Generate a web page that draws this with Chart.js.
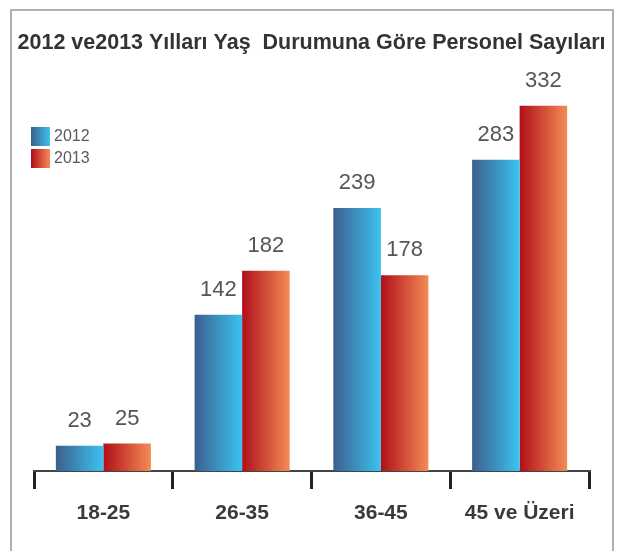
<!DOCTYPE html>
<html>
<head>
<meta charset="utf-8">
<script src="https://cdn.jsdelivr.net/npm/chart.js@4"></script>
<style>
  html, body { margin: 0; padding: 0; background: #fff; overflow: hidden; }
  #wrap { position: relative; width: 623px; height: 551px; }
  #frame { position: absolute; left: 10px; top: 9px; width: 604px; height: 580px; border: 2px solid #b0b0b0; box-sizing: border-box; }
  canvas { position: absolute; left: 0; top: 0; }
</style>
</head>
<body>
<div id="wrap">
  <canvas id="ageChart" width="623" height="551"></canvas>
  <div id="frame"></div>
</div>
<script>
// Data
const categories = ['18-25', '26-35', '36-45', '45 ve Üzeri'];
const series2012 = [23, 142, 239, 283];
const series2013 = [25, 182, 178, 332];
const seriesNames = ['2012', '2013'];
const chartTitle = '2012 ve2013 Yılları Yaş  Durumuna Göre Personel Sayıları';

// gradient colours (left -> right)
const gradColors = [
    ['#3b5f8e', '#3cc3f0'],
    ['#b00f19', '#f38c56']
];

const fontFamily = '"Liberation Sans", Arial, Helvetica, sans-serif';

// horizontal gradient on each bar
const barGradient = {
    id: 'barGradient',
    beforeDatasetsDraw(chart) {
        const ctx = chart.ctx;
        chart.data.datasets.forEach((ds, i) => {
            const meta = chart.getDatasetMeta(i);
            meta.data.forEach((el) => {
                const g = ctx.createLinearGradient(el.x - el.width / 2, 0, el.x + el.width / 2, 0);
                g.addColorStop(0, gradColors[i][0]);
                g.addColorStop(1, gradColors[i][1]);
                el.options = Object.assign({}, el.options, { backgroundColor: g });
            });
        });
    }
};

// value labels above bars
const valueLabels = {
    id: 'valueLabels',
    afterDatasetsDraw(chart) {
        const ctx = chart.ctx;
        ctx.save();
        ctx.font = '22px ' + fontFamily;
        ctx.fillStyle = '#555';
        ctx.textAlign = 'center';
        ctx.textBaseline = 'alphabetic';
        chart.data.datasets.forEach((ds, i) => {
            chart.getDatasetMeta(i).data.forEach((el, j) => {
                ctx.fillText(ds.data[j], el.x, el.y - 19);
            });
        });
        ctx.restore();
    }
};

// title across the whole frame (the built-in one is clipped to the padded box)
const wideTitle = {
    id: 'wideTitle',
    afterDraw(chart) {
        const ctx = chart.ctx;
        ctx.save();
        ctx.font = 'bold 21.5px ' + fontFamily;
        ctx.fillStyle = '#333';
        ctx.textAlign = 'center';
        ctx.textBaseline = 'middle';
        ctx.fillText(chartTitle, chart.width / 2, 43, 592);
        ctx.restore();
    }
};

// legend with gradient swatches, top-left
const gradLegend = {
    id: 'gradLegend',
    afterDraw(chart) {
        const ctx = chart.ctx;
        ctx.save();
        ctx.font = '16px ' + fontFamily;
        ctx.textBaseline = 'middle';
        chart.data.datasets.forEach((ds, i) => {
            const x = 31, y = 127 + i * 22;
            const g = ctx.createLinearGradient(x, 0, x + 19, 0);
            g.addColorStop(0, gradColors[i][0]);
            g.addColorStop(1, gradColors[i][1]);
            ctx.fillStyle = g;
            ctx.fillRect(x, y, 19, 19);
            ctx.fillStyle = '#5a5a5a';
            ctx.fillText(ds.label, x + 23, y + 10);
        });
        ctx.restore();
    }
};

const ageChart = new Chart(document.getElementById('ageChart'), {
    type: 'bar',
    data: {
        labels: categories,
        datasets: [
            { label: seriesNames[0], data: series2012, backgroundColor: gradColors[0][1] },
            { label: seriesNames[1], data: series2013, backgroundColor: gradColors[1][1] }
        ]
    },
    options: {
        responsive: false,
        animation: false,
        events: [],
        categoryPercentage: 0.685,
        barPercentage: 1.0,
        layout: { padding: { left: 34, right: 34, top: 97, bottom: 0 } },
        scales: {
            x: {
                offset: true,
                grid: {
                    offset: true,
                    drawOnChartArea: false,
                    color: '#222',
                    lineWidth: 3,
                    tickLength: 18
                },
                border: { color: '#444', width: 2 },
                ticks: {
                    padding: 12,
                    color: '#3a3a3a',
                    font: { family: fontFamily, size: 21, weight: 'bold' }
                },
                afterFit: (s) => { s.height = 80; }
            },
            y: {
                display: false,
                min: 0,
                max: 340
            }
        },
        plugins: {
            legend: { display: false },
            tooltip: { enabled: false },
            title: { display: false }
        }
    },
    plugins: [barGradient, valueLabels, wideTitle, gradLegend]
});
</script>
</body>
</html>
